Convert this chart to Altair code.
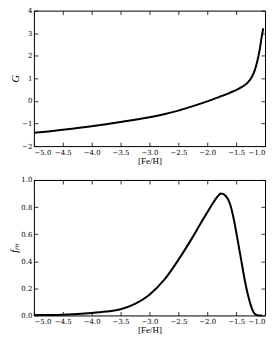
import altair as alt
import pandas as pd

# Top panel: G vs [Fe/H]
feh_top = [-5.0, -4.75, -4.5, -4.25, -4.0, -3.75, -3.5, -3.25, -3.0, -2.75, -2.5, -2.25,
           -2.0, -1.8, -1.6, -1.5, -1.4, -1.3, -1.25, -1.2, -1.17, -1.14,
           -1.11, -1.08, -1.06, -1.03]
g_vals = [-1.41, -1.35, -1.28, -1.20, -1.12, -1.03, -0.93, -0.83, -0.72, -0.59, -0.43, -0.23,
          -0.02, 0.17, 0.37, 0.48, 0.62, 0.81, 0.97, 1.21, 1.42, 1.69,
          2.03, 2.45, 2.80, 3.22]

# Bottom panel: f_m vs [Fe/H]
feh_bot = [-5.0, -4.5, -4.0, -3.75, -3.5, -3.25, -3.0, -2.75, -2.5, -2.25, -2.1, -2.0,
           -1.9, -1.85, -1.8, -1.77, -1.73, -1.7, -1.65, -1.6, -1.55, -1.5, -1.45, -1.4,
           -1.35, -1.3, -1.25, -1.2, -1.15, -1.1, -1.05]
fm_vals = [0.003, 0.006, 0.018, 0.029, 0.046, 0.085, 0.153, 0.26, 0.41, 0.58, 0.69, 0.76,
           0.83, 0.862, 0.888, 0.90, 0.897, 0.89, 0.865, 0.815, 0.73, 0.62, 0.50, 0.38,
           0.26, 0.16, 0.08, 0.025, 0.003, 0.0, 0.0]

x_ticks = [-5.0, -4.5, -4.0, -3.5, -3.0, -2.5, -2.0, -1.5, -1.0]
g_ticks = [-2, -1, 0, 1, 2, 3, 4]
fm_ticks = [0.0, 0.2, 0.4, 0.6, 0.8, 1.0]

top_df = pd.DataFrame({"feh": feh_top, "val": g_vals})
bot_df = pd.DataFrame({"feh": feh_bot, "val": fm_vals})

LABEL_FONT = "DejaVu Serif"
TITLE_FONT = "Liberation Serif"

def axis_main(orient, values, fmt, title, italic=False):
    kw = dict(
        orient=orient, values=values, format=fmt, domain=False,
        tickSize=4, offset=-4, tickColor="black", tickWidth=0.8,
        labelFont=LABEL_FONT, labelFontSize=7, labelColor="black", labelPadding=2,
        grid=False, title=title, titleFont=TITLE_FONT, titleColor="black",
        titleFontWeight="normal",
    )
    if italic:
        kw.update(titleFontStyle="italic", titleFontSize=10.5, titlePadding=1)
    else:
        kw.update(titleFontSize=9, titlePadding=1)
    return alt.Axis(**kw)

def axis_ghost(orient, values):
    return alt.Axis(orient=orient, values=values, labels=False, domain=False,
                    tickSize=4, offset=-4, tickColor="black", tickWidth=0.8,
                    grid=False, title=None)

def panel(df, ydomain, yticks, yfmt, ytitle, height):
    xs = alt.Scale(domain=[-5, -1], nice=False, zero=False)
    ys = alt.Scale(domain=ydomain, nice=False, zero=False)
    main = alt.Chart(df).mark_line(color="black", strokeWidth=2, interpolate="monotone").encode(
        x=alt.X("feh:Q", scale=xs, axis=axis_main("bottom", x_ticks, ".1f", "[Fe/H]")),
        y=alt.Y("val:Q", scale=ys, axis=axis_main("left", yticks, yfmt, ytitle, italic=True)),
    )
    ghost = alt.Chart(df).mark_line(strokeOpacity=0).encode(
        x=alt.X("feh:Q", scale=xs, axis=axis_ghost("top", x_ticks)),
        y=alt.Y("val:Q", scale=ys, axis=axis_ghost("right", yticks)),
    )
    return alt.layer(main, ghost).resolve_axis(x="independent", y="independent").properties(
        width=232, height=height)

top = panel(top_df, [-2, 4], g_ticks, "d", "G", 136)
bot = panel(bot_df, [0, 1], fm_ticks, ".1f", "fₘ", 136)

chart = alt.vconcat(top, bot, spacing=9).configure_view(
    stroke="black", strokeWidth=1
).properties(padding={"left": 1, "top": -3, "right": 0, "bottom": 0}, background="white")

chart.save("out.html", embed_options={"renderer": "svg", "actions": False})
